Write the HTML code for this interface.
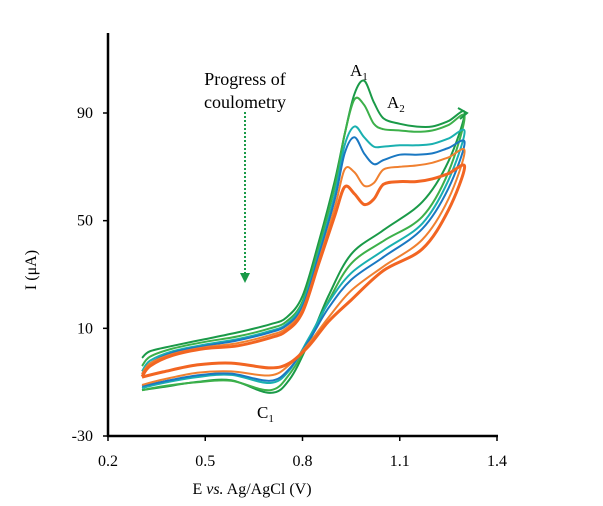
<!DOCTYPE html>
<html><head><meta charset="utf-8"><style>
body{margin:0;background:#fff;}
svg{display:block;font-family:"Liberation Serif",serif;}
</style></head><body>
<svg id="chart" width="603" height="506" viewBox="0 0 603 506" xmlns="http://www.w3.org/2000/svg">
<g id="curves"></g>
<line x1="108" y1="33" x2="108" y2="437" stroke="#000" stroke-width="2.5"/>
<line x1="107" y1="436" x2="498" y2="436" stroke="#000" stroke-width="2.5"/>
<g id="ticks"></g>
<text transform="translate(36,270) rotate(-90)" text-anchor="middle" font-size="16">I (μA)</text>
<text x="252" y="494" text-anchor="middle" font-size="16">E <tspan font-style="italic">vs.</tspan> Ag/AgCl (V)</text>
<text x="245" y="85" text-anchor="middle" font-size="18">Progress of</text>
<text x="245" y="108" text-anchor="middle" font-size="18">coulometry</text>
<line x1="245" y1="112" x2="245" y2="274" stroke="#1a9a48" stroke-width="2" stroke-dasharray="2,2"/>
<polygon points="240,273 250,273 245,283" fill="#1a9a48"/>
<text x="350" y="76" font-size="17">A<tspan font-size="11" dy="4">1</tspan></text>
<text x="387" y="108" font-size="17">A<tspan font-size="11" dy="4">2</tspan></text>
<text x="257" y="418" font-size="17">C<tspan font-size="11" dy="4">1</tspan></text>
<polyline points="458,108 467,113 460,119" fill="none" stroke="#1a9a48" stroke-width="2"/>
</svg>
<script>
const xTicks=[0.2,0.5,0.8,1.1,1.4];
const xTickLabels=["0.2","0.5","0.8","1.1","1.4"];
const yTicks=[-30,10,50,90];
const yTickLabels=["-30","10","50","90"];
const fwdE=[0.305,0.33,0.4,0.5,0.6,0.7,0.75,0.8,0.85,0.9,0.93,0.96,0.99,1.02,1.05,1.1,1.15,1.2,1.25,1.3];
const revE=[1.3,1.25,1.17,1.05,0.95,0.88,0.82,0.76,0.7,0.58,0.475,0.37,0.305];
const seriesNames=["scan-1","scan-2","scan-3","scan-4","scan-5","scan-6"];
const seriesColors=["#1a9a48","#3cb04a","#1ab0b0","#1a78c2","#f08030","#f26522"];
const fwd1=[-1,1.5,3.5,6,8.5,11.5,14,22,42,65,82,97,102,94,88,86,85,85,87,90];
const fwd2=[-4,-0.5,2.5,5,7,10,12.5,20,40,63,82,95,93,86,84,83.5,83,83.5,85.5,88.5];
const fwd3=[-6,-2,1.5,4,6,9,11.5,19,38,60,78,85,81,77.5,77.5,78,78,78.5,80.5,83];
const fwd4=[-7,-3,1,3.5,5.5,8.5,11,18,37,58,75,81,75,71,72.5,74.5,74.5,75,77,79];
const fwd5=[-7,-3,0.5,3,4.5,7.5,10,17,35,55,69,68,63,64,69,70,70.5,71.5,73.5,75.8];
const fwd6=[-8,-4,0,2.5,3.5,6.5,9,16,34,52,62.5,60,56,58,63.5,64.5,64.5,65.5,67.5,70];
const rev1=[90,72,57,46.5,37.5,22,5,-9,-14,-9.3,-9.9,-11.8,-12.9];
const rev2=[88.5,68,51.5,42.5,34,20,5,-7,-13,-9.5,-10,-11.5,-13];
const rev3=[83,65,49,39,30.5,19.5,6.5,-5.5,-10.3,-7.3,-8.1,-10.3,-12.2];
const rev4=[79,62,47,36.5,28,17.5,5.5,-5,-9.5,-6.8,-7.5,-9.8,-11.5];
const rev5=[75.8,58,43,33,24,14,4.5,-3.5,-7.5,-6,-6.5,-9,-11];
const rev6=[70,53.9,39.5,31.5,20.5,12.5,3.5,-2.9,-4.7,-2.9,-3.6,-6.2,-8.1];
const fwdAll=[fwd1,fwd2,fwd3,fwd4,fwd5,fwd6];
const revAll=[rev1,rev2,rev3,rev4,rev5,rev6];

const X=e=>108+(e-0.2)/1.2*389;
const Y=i=>436-(i+30)/120*323;
const NS="http://www.w3.org/2000/svg";
function smooth(pts){
  let d="M"+pts[0][0].toFixed(1)+","+pts[0][1].toFixed(1);
  for(let i=0;i<pts.length-1;i++){
    const p0=pts[Math.max(0,i-1)],p1=pts[i],p2=pts[i+1],p3=pts[Math.min(pts.length-1,i+2)];
    const c1=[p1[0]+(p2[0]-p0[0])/6,p1[1]+(p2[1]-p0[1])/6];
    const c2=[p2[0]-(p3[0]-p1[0])/6,p2[1]-(p3[1]-p1[1])/6];
    d+=" C"+c1.map(v=>v.toFixed(1)).join(",")+" "+c2.map(v=>v.toFixed(1)).join(",")+" "+p2[0].toFixed(1)+","+p2[1].toFixed(1);
  }
  return d;
}
const g=document.getElementById("curves");
for(let s=0;s<6;s++){
  const pts=[];
  fwdE.forEach((e,k)=>pts.push([X(e),Y(fwdAll[s][k])]));
  revE.slice(1).forEach((e,k)=>pts.push([X(e),Y(revAll[s][k+1])]));
  const p=document.createElementNS(NS,"path");
  p.setAttribute("d",smooth(pts));
  p.setAttribute("fill","none");
  p.setAttribute("stroke",seriesColors[s]);
  p.setAttribute("stroke-width",s===5?"3":"2");
  
  
  g.appendChild(p);
}
const t=document.getElementById("ticks");
xTicks.forEach((v,k)=>{
  const l=document.createElementNS(NS,"line");
  l.setAttribute("x1",X(v));l.setAttribute("x2",X(v));l.setAttribute("y1",436);l.setAttribute("y2",441);
  l.setAttribute("stroke","#000");l.setAttribute("stroke-width","1.5");
  
  
  t.appendChild(l);
  const tx=document.createElementNS(NS,"text");
  tx.setAttribute("x",X(v));tx.setAttribute("y",466);tx.setAttribute("text-anchor","middle");tx.setAttribute("font-size","16");
  tx.textContent=xTickLabels[k];
  
  
  t.appendChild(tx);
});
yTicks.forEach((v,k)=>{
  const l=document.createElementNS(NS,"line");
  l.setAttribute("x1",103);l.setAttribute("x2",108);l.setAttribute("y1",Y(v));l.setAttribute("y2",Y(v));
  l.setAttribute("stroke","#000");l.setAttribute("stroke-width","1.5");
  
  
  t.appendChild(l);
  const tx=document.createElementNS(NS,"text");
  tx.setAttribute("x",93);tx.setAttribute("y",Y(v)+5);tx.setAttribute("text-anchor","end");tx.setAttribute("font-size","16");
  tx.textContent=yTickLabels[k];
  
  
  t.appendChild(tx);
});
</script>
</body></html>
